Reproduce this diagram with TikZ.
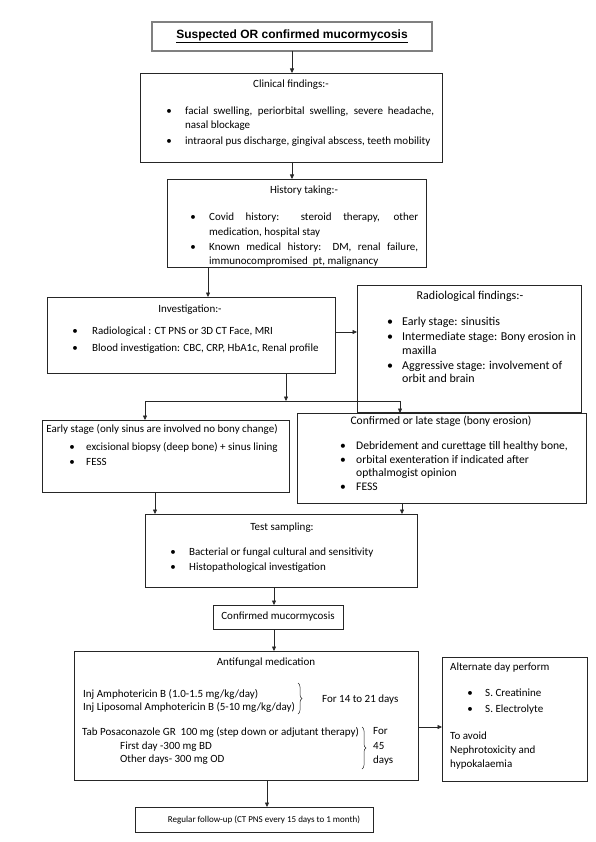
\documentclass[tikz,border=0pt]{standalone}
\usepackage{fontspec}
\setmainfont{Carlito}
\newfontfamily\arialb{Liberation Sans}
\usetikzlibrary{arrows.meta,decorations.pathreplacing}
\newcommand\mkbox[6][]{\node[box,#1,minimum width={#5-#3},minimum height={#6-#4}] (#2) at ({(#3+#5)/2},{(#4+#6)/2}) {};}
\newcommand\bitem[5]{\node[txt,anchor=mid] (#1b) at (#2,#4) {•}; \node[txt,anchor=mid west] (#1) at (#3,#4) {#5};}
\newcommand\tline[4]{\node[txt,anchor=mid west] (#1) at (#2,#3) {#4};}
\newcommand\ctitle[4]{\node[txt,anchor=mid] (#1) at (#2,#3) {#4};}
\begin{document}
\begin{tikzpicture}[x=1pt,y=-1pt,
 box/.style={draw=black!85, line width=0.6pt, inner sep=0pt, outer sep=0pt},
 fsz/.style={},
 txt/.style={inner sep=0pt, font=\fontsize{11}{13}\selectfont, fsz},
 big/.style={font=\fontsize{12}{14}\selectfont},
 mbig/.style={font=\fontsize{11.6}{14}\selectfont},
 tiny/.style={font=\fontsize{9}{11}\selectfont},
 arr/.style={draw=black!85, line width=0.6pt, -{Triangle[length=4.5pt,width=4pt]}},
 ln/.style={draw=black!85, line width=0.6pt},
 brc/.style={draw=black!85, line width=0.5pt, decorate, decoration={brace,amplitude=4pt}}]
\useasboundingbox (0,0) rectangle (596,842);
\fill[white] (0,0) rectangle (596,842);

% top
\mkbox[draw=gray,line width=1.1pt]{top}{152}{22}{432}{51}
\node[txt, font=\arialb\bfseries\fontsize{12}{14}\selectfont, anchor=mid] (toptxt) at (292,36) {\underline{Suspected OR confirmed mucormycosis}};

% clinical
\mkbox{clin}{140}{73}{442}{162}
\ctitle{clint}{291}{85}{Clinical findings:-}
\bitem{c1}{169}{185}{112}{\makebox[249pt][s]{facial swelling, periorbital swelling, severe headache,}}
\tline{c1n}{185}{126}{nasal blockage}
\bitem{c2}{169}{185}{142}{intraoral pus discharge, gingival abscess, teeth mobility}

% history
\mkbox{hist}{167}{179}{426}{267}
\ctitle{histt}{304}{191}{History taking:-}
\bitem{h1}{193}{209}{218}{\makebox[209pt][s]{Covid history: steroid therapy, other}}
\tline{h1n}{209}{233}{medication, hospital stay}
\bitem{h2}{193}{209}{248}{\makebox[209pt][s]{Known medical history: DM, renal failure,}}
\tline{h2n}{209}{262}{immunocompromised\ \ pt, malignancy}

% investigation
\mkbox{inv}{47}{297}{335}{373}
\ctitle{invt}{190}{310}{Investigation:-}
\bitem{i1}{75}{92}{332}{Radiological : CT PNS or 3D CT Face, MRI}
\bitem{i2}{75}{92}{349}{Blood investigation: CBC, CRP, HbA1c, Renal profile}

% radiological
\mkbox{rad}{357}{285}{581}{412}
\begin{scope}[fsz/.style={big}]
\ctitle{radt}{470}{297}{Radiological findings:-}
\bitem{r1}{390}{402}{323}{Early stage: sinusitis}
\bitem{r2}{390}{402}{338}{Intermediate stage: Bony erosion in}
\tline{r2n}{402}{352}{maxilla}
\bitem{r3}{390}{402}{367}{Aggressive stage: involvement of}
\tline{r3n}{402}{380}{orbit and brain}
\end{scope}

% early
\mkbox{early}{42}{420}{289}{492}
\ctitle{earlyt}{162}{430}{Early stage (only sinus are involved no bony change)}
\bitem{e1}{72}{86}{448}{excisional biopsy (deep bone) + sinus lining}
\bitem{e2}{72}{86}{463}{FESS}

% late
\mkbox{late}{297}{413}{586}{503}
\begin{scope}[fsz/.style={mbig}]
\ctitle{latet}{441}{422}{Confirmed or late stage (bony erosion)}
\bitem{l1}{343}{356}{447}{Debridement and curettage till healthy bone,}
\bitem{l2}{343}{356}{461}{orbital exenteration if indicated after}
\tline{l2n}{356}{474}{opthalmogist opinion}
\bitem{l3}{343}{356}{488}{FESS}
\end{scope}

% test
\mkbox{test}{145}{514}{417}{587}
\ctitle{testt}{282}{528}{Test sampling:}
\bitem{t1}{173}{189}{553}{Bacterial or fungal cultural and sensitivity}
\bitem{t2}{173}{189}{568}{Histopathological investigation}

% confirmed
\mkbox{conf}{213}{605}{343}{629}
\ctitle{conft}{278}{617}{Confirmed mucormycosis}

% antifungal
\mkbox{anti}{74}{651}{418}{780}
\ctitle{antit}{266}{663}{Antifungal medication}
\tline{a1}{83}{695}{Inj Amphotericin B (1.0-1.5 mg/kg/day)}
\tline{a2}{83}{708}{Inj Liposomal Amphotericin B (5-10 mg/kg/day)}
\draw[brc] (298,683) -- (298,714);
\tline{a3}{322}{700}{For 14 to 21 days}
\tline{a4}{82}{733}{Tab Posaconazole GR\ \ 100 mg (step down or adjutant therapy)}
\tline{a5}{120}{747}{First day -300 mg BD}
\tline{a6}{120}{760}{Other days- 300 mg OD}
\draw[brc] (362,727) -- (362,769);
\tline{a7}{373}{732}{For}
\tline{a8}{373}{747}{45}
\tline{a9}{373}{761}{days}

% alternate
\mkbox{alt}{442}{657}{587}{781}
\tline{alt0}{450}{668}{Alternate day perform}
\bitem{al1}{470}{485}{694}{S. Creatinine}
\bitem{al2}{470}{485}{710}{S. Electrolyte}
\tline{al3}{450}{737}{To avoid}
\tline{al4}{450}{751}{Nephrotoxicity and}
\tline{al5}{450}{765}{hypokalaemia}

% follow-up
\mkbox{fol}{135}{807}{373}{832}
\begin{scope}[fsz/.style={tiny}]
\ctitle{folt}{264}{820}{Regular follow-up (CT PNS every 15 days to 1 month)}
\end{scope}

% helper coordinates
\coordinate (x208) at (208,0);
\coordinate (x155) at (155,0);
\coordinate (x402) at (402,0);
\coordinate (x274) at (274,0);
\coordinate (x267) at (267,0);
\coordinate (y332) at (0,332);
\coordinate (y727) at (0,727);
\coordinate (split) at (286,401);
\coordinate (splitL) at (145,401);
\coordinate (splitR) at (400,401);

% connectors
\draw[arr] (top.south) -- (clin.north -| top.south);
\draw[arr] (clin.south -| top.south) -- (hist.north -| top.south);
\draw[arr] (hist.south -| x208) -- (inv.north -| x208);
\draw[arr] (inv.east |- y332) -- (rad.west |- y332);
\draw[arr] (inv.south -| split) -- (split);
\draw[ln] (splitL) -- (splitR);
\draw[arr] (splitL) -- (early.north -| splitL);
\draw[arr] (splitR) -- (late.north -| splitR);
\draw[arr] (early.south -| x155) -- (test.north -| x155);
\draw[arr] (late.south -| x402) -- (test.north -| x402);
\draw[arr] (test.south -| x274) -- (conf.north -| x274);
\draw[arr] (conf.south -| x274) -- (anti.north -| x274);
\draw[arr] (anti.east |- y727) -- (alt.west |- y727);
\draw[arr] (anti.south -| x267) -- (fol.north -| x267);
\end{tikzpicture}
\end{document}
